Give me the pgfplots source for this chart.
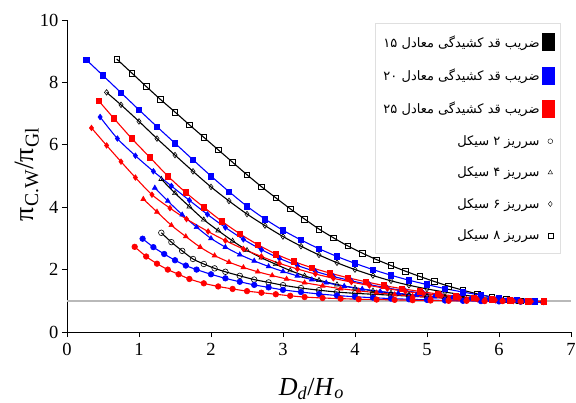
\documentclass[border=0pt]{standalone}
\usepackage{fontspec}
\setmainfont{Liberation Serif}
\newfontfamily\arabicfont[Script=Arabic]{DejaVu Sans}
\TeXXeTstate=1
\usepackage{pgfplots}
\pgfplotsset{compat=1.18}
\definecolor{pblue}{RGB}{0,0,255}
\definecolor{pred}{RGB}{255,0,0}

\pgfplotsset{
  fit/.style={smooth, line width=1.1pt, forget plot, mark size=2.8pt, mark options={solid, line width=0.6pt}},
  blk/.style={fit, black},
  blu/.style={fit, pblue},
  rd/.style={fit, pred},
}

\begin{document}
\begin{tikzpicture}
\begin{axis}[
  name=ax, at={(0,0)}, anchor=south west,
  scale only axis, width=504pt, height=312pt,
  xmin=0, xmax=7, ymin=0, ymax=10,
  xtick={0,...,7}, ytick={0,2,...,10},
  axis lines=left, axis line style={-, line width=0.8pt},
  tick align=outside, major tick length=5pt,
  tick style={black, line width=0.8pt},
  /pgf/number format/assume math mode=true,
  every tick label/.append style={font=\fontsize{18.5}{20}\selectfont},
  xticklabel style={yshift=-3pt},
  xlabel={\textit{D}\textsubscript{\textit{d}}/\textit{H}\textsubscript{\textit{o}}},
  xlabel style={at={(axis description cs:0.485,0)}, anchor=base, yshift=-63pt, font=\fontsize{26}{28}\selectfont},
  ylabel={π\textsubscript{C.W}/π\textsubscript{Gl}},
  ylabel style={at={(axis description cs:0,0.505)}, anchor=center, yshift=40pt, font=\fontsize{28}{30}\selectfont},
  legend plot pos=right,
  legend cell align=right,
  legend style={at={(axis cs:6.85,9.9)}, anchor=north east, draw=gray!25,
    font=\arabicfont\fontsize{13}{15}\selectfont, row sep=16pt, inner xsep=6pt, inner ysep=10pt},
]

% legend
\addlegendimage{legend image code/.code={\fill[black] (0pt,-8.5pt) rectangle (12pt,8.5pt);}}
\addlegendentry{\beginR ضریب قد کشیدگی معادل \beginL ۱۵\endL\endR}
\addlegendimage{legend image code/.code={\fill[pblue] (0pt,-8.5pt) rectangle (12pt,8.5pt);}}
\addlegendentry{\beginR ضریب قد کشیدگی معادل \beginL ۲۰\endL\endR}
\addlegendimage{legend image code/.code={\fill[pred] (0pt,-8.5pt) rectangle (12pt,8.5pt);}}
\addlegendentry{\beginR ضریب قد کشیدگی معادل \beginL ۲۵\endL\endR}
\addlegendimage{only marks, mark=o, black, mark size=2.4pt}
\addlegendentry{\beginR سرریز ۲ سیکل\endR}
\addlegendimage{only marks, mark=triangle, black, mark size=2.6pt}
\addlegendentry{\beginR سرریز ۴ سیکل\endR}
\addlegendimage{only marks, mark=diamond, black, mark size=2.6pt}
\addlegendentry{\beginR سرریز ۶ سیکل\endR}
\addlegendimage{only marks, mark=square, black, mark size=2.4pt}
\addlegendentry{\beginR سرریز ۸ سیکل\endR}

% reference line
\addplot[gray!55, line width=1.5pt, forget plot] coordinates {(0,1) (7,1)};

% C = 15 (black)
\addplot[blk, mark=square] coordinates {
(0.69,8.75) (0.9,8.3) (1.1,7.87) (1.3,7.45) (1.5,7.05) (1.7,6.64) (1.9,6.24) (2.1,5.84)
(2.3,5.44) (2.5,5.04) (2.7,4.66) (2.9,4.3) (3.1,3.95) (3.3,3.62) (3.5,3.3) (3.7,3.02)
(3.9,2.76) (4.1,2.53) (4.3,2.32) (4.5,2.13) (4.7,1.95) (4.9,1.78) (5.1,1.62) (5.3,1.47)
(5.5,1.34) (5.7,1.22) (5.9,1.12) (6.1,1.05) (6.3,1.0) (6.5,0.98) (6.62,0.97)};
\addplot[blk, mark=diamond] coordinates {
(0.55,7.68) (0.75,7.28) (1.0,6.75) (1.25,6.2) (1.5,5.67) (1.75,5.15) (2.0,4.65) (2.25,4.2)
(2.5,3.78) (2.75,3.41) (3.0,3.06) (3.25,2.75) (3.5,2.47) (3.75,2.22) (4.0,2.0) (4.25,1.81)
(4.5,1.64) (4.75,1.5) (5.0,1.38) (5.25,1.28) (5.5,1.19) (5.75,1.11) (6.0,1.05) (6.25,1.0)
(6.5,0.98) (6.62,0.97)};
\addplot[blk, mark=triangle] coordinates {
(1.31,4.9) (1.5,4.45) (1.7,4.02) (1.9,3.6) (2.1,3.25) (2.3,2.92) (2.5,2.62) (2.7,2.38)
(2.9,2.17) (3.1,1.97) (3.3,1.8) (3.5,1.66) (3.75,1.52) (4.0,1.41) (4.25,1.32) (4.5,1.25)
(4.75,1.19) (5.0,1.14) (5.25,1.1) (5.5,1.06) (5.75,1.03) (6.0,1.01) (6.25,0.99) (6.5,0.97)
(6.62,0.96)};
\addplot[blk, mark=o] coordinates {
(1.31,3.18) (1.45,2.88) (1.6,2.6) (1.75,2.34) (1.9,2.18) (2.05,2.04) (2.2,1.93) (2.4,1.8)
(2.6,1.68) (2.8,1.59) (3.0,1.5) (3.25,1.41) (3.5,1.34) (3.75,1.28) (4.0,1.24) (4.25,1.21)
(4.5,1.18) (4.75,1.15) (5.0,1.12) (5.25,1.09) (5.5,1.06) (5.75,1.04) (6.0,1.02) (6.25,1.0)
(6.62,0.98)};

% C = 20 (blue)
\addplot[blu, mark=square*] coordinates {
(0.27,8.72) (0.5,8.22) (0.75,7.67) (1.0,7.12) (1.25,6.58) (1.5,6.05) (1.75,5.52) (2.0,5.0)
(2.25,4.5) (2.5,4.03) (2.75,3.62) (3.0,3.26) (3.25,2.95) (3.5,2.67) (3.75,2.42) (4.0,2.2)
(4.25,2.0) (4.5,1.82) (4.75,1.66) (5.0,1.52) (5.25,1.39) (5.5,1.28) (5.75,1.18) (6.0,1.1)
(6.25,1.03) (6.5,0.99) (6.62,0.97)};
\addplot[blu, mark=diamond*] coordinates {
(0.46,6.89) (0.7,6.2) (0.95,5.65) (1.2,5.15) (1.45,4.68) (1.7,4.22) (1.95,3.77) (2.2,3.35)
(2.45,2.97) (2.7,2.64) (2.95,2.36) (3.2,2.13) (3.45,1.94) (3.7,1.78) (3.95,1.64) (4.2,1.52)
(4.45,1.41) (4.7,1.32) (4.95,1.24) (5.2,1.17) (5.45,1.11) (5.7,1.06) (5.95,1.02) (6.2,1.0)
(6.45,0.98) (6.62,0.97)};
\addplot[blu, mark=triangle*] coordinates {
(1.22,4.62) (1.4,4.2) (1.6,3.76) (1.8,3.36) (2.0,3.0) (2.2,2.72) (2.4,2.48) (2.6,2.28)
(2.8,2.1) (3.0,1.94) (3.2,1.8) (3.4,1.68) (3.6,1.58) (3.85,1.47) (4.1,1.38) (4.35,1.3)
(4.6,1.24) (4.85,1.18) (5.1,1.13) (5.35,1.09) (5.6,1.06) (5.85,1.03) (6.1,1.0) (6.35,0.98)
(6.62,0.96)};
\addplot[blu, mark=*] coordinates {
(1.05,2.99) (1.2,2.72) (1.35,2.5) (1.5,2.3) (1.65,2.13) (1.8,2.0) (2.0,1.85) (2.2,1.72)
(2.4,1.61) (2.6,1.51) (2.8,1.43) (3.0,1.35) (3.25,1.28) (3.5,1.22) (3.75,1.17) (4.0,1.13)
(4.25,1.1) (4.5,1.07) (4.75,1.05) (5.0,1.03) (5.25,1.01) (5.5,1.0) (5.75,0.99) (6.0,0.98)
(6.3,0.97) (6.62,0.96)};

% C = 25 (red)
\addplot[rd, mark=square*] coordinates {
(0.44,7.41) (0.65,6.85) (0.9,6.2) (1.15,5.6) (1.4,5.0) (1.65,4.47) (1.9,4.0) (2.15,3.55)
(2.4,3.15) (2.65,2.8) (2.9,2.5) (3.15,2.26) (3.4,2.06) (3.65,1.89) (3.9,1.74) (4.15,1.61)
(4.4,1.49) (4.65,1.39) (4.9,1.3) (5.15,1.22) (5.4,1.15) (5.65,1.09) (5.9,1.04) (6.15,1.01)
(6.4,0.99) (6.62,0.98)};
\addplot[rd, mark=diamond*] coordinates {
(0.34,6.54) (0.55,5.98) (0.75,5.46) (0.95,4.95) (1.18,4.4) (1.43,3.97) (1.66,3.62) (1.96,3.22)
(2.2,2.93) (2.45,2.66) (2.7,2.42) (2.95,2.2) (3.2,2.02) (3.45,1.86) (3.7,1.72) (3.95,1.6)
(4.2,1.49) (4.45,1.39) (4.7,1.3) (4.95,1.23) (5.2,1.16) (5.45,1.1) (5.7,1.05) (5.95,1.02)
(6.2,0.99) (6.45,0.98) (6.62,0.97)};
\addplot[rd, mark=triangle*] coordinates {
(1.06,4.26) (1.25,3.85) (1.45,3.42) (1.65,3.06) (1.85,2.72) (2.05,2.45) (2.25,2.24) (2.45,2.07)
(2.65,1.93) (2.85,1.81) (3.05,1.7) (3.3,1.58) (3.55,1.48) (3.8,1.39) (4.05,1.32) (4.3,1.26)
(4.55,1.2) (4.8,1.15) (5.05,1.11) (5.3,1.08) (5.55,1.05) (5.8,1.03) (6.05,1.01) (6.3,0.99)
(6.62,0.97)};
\addplot[rd, mark=*] coordinates {
(0.94,2.73) (1.1,2.42) (1.25,2.19) (1.4,2.0) (1.55,1.85) (1.7,1.7) (1.9,1.56) (2.1,1.46)
(2.3,1.38) (2.5,1.31) (2.7,1.26) (2.9,1.21) (3.1,1.16) (3.3,1.12) (3.55,1.09) (3.8,1.07)
(4.05,1.05) (4.3,1.04) (4.55,1.03) (4.8,1.02) (5.05,1.01) (5.3,1.0) (5.55,1.0) (5.8,0.99)
(6.05,0.99) (6.3,0.98) (6.62,0.98)};
\end{axis}
\pgfresetboundingbox
\path[use as bounding box] (-67pt,-70pt) rectangle (509pt,332pt);
\end{tikzpicture}
\end{document}
